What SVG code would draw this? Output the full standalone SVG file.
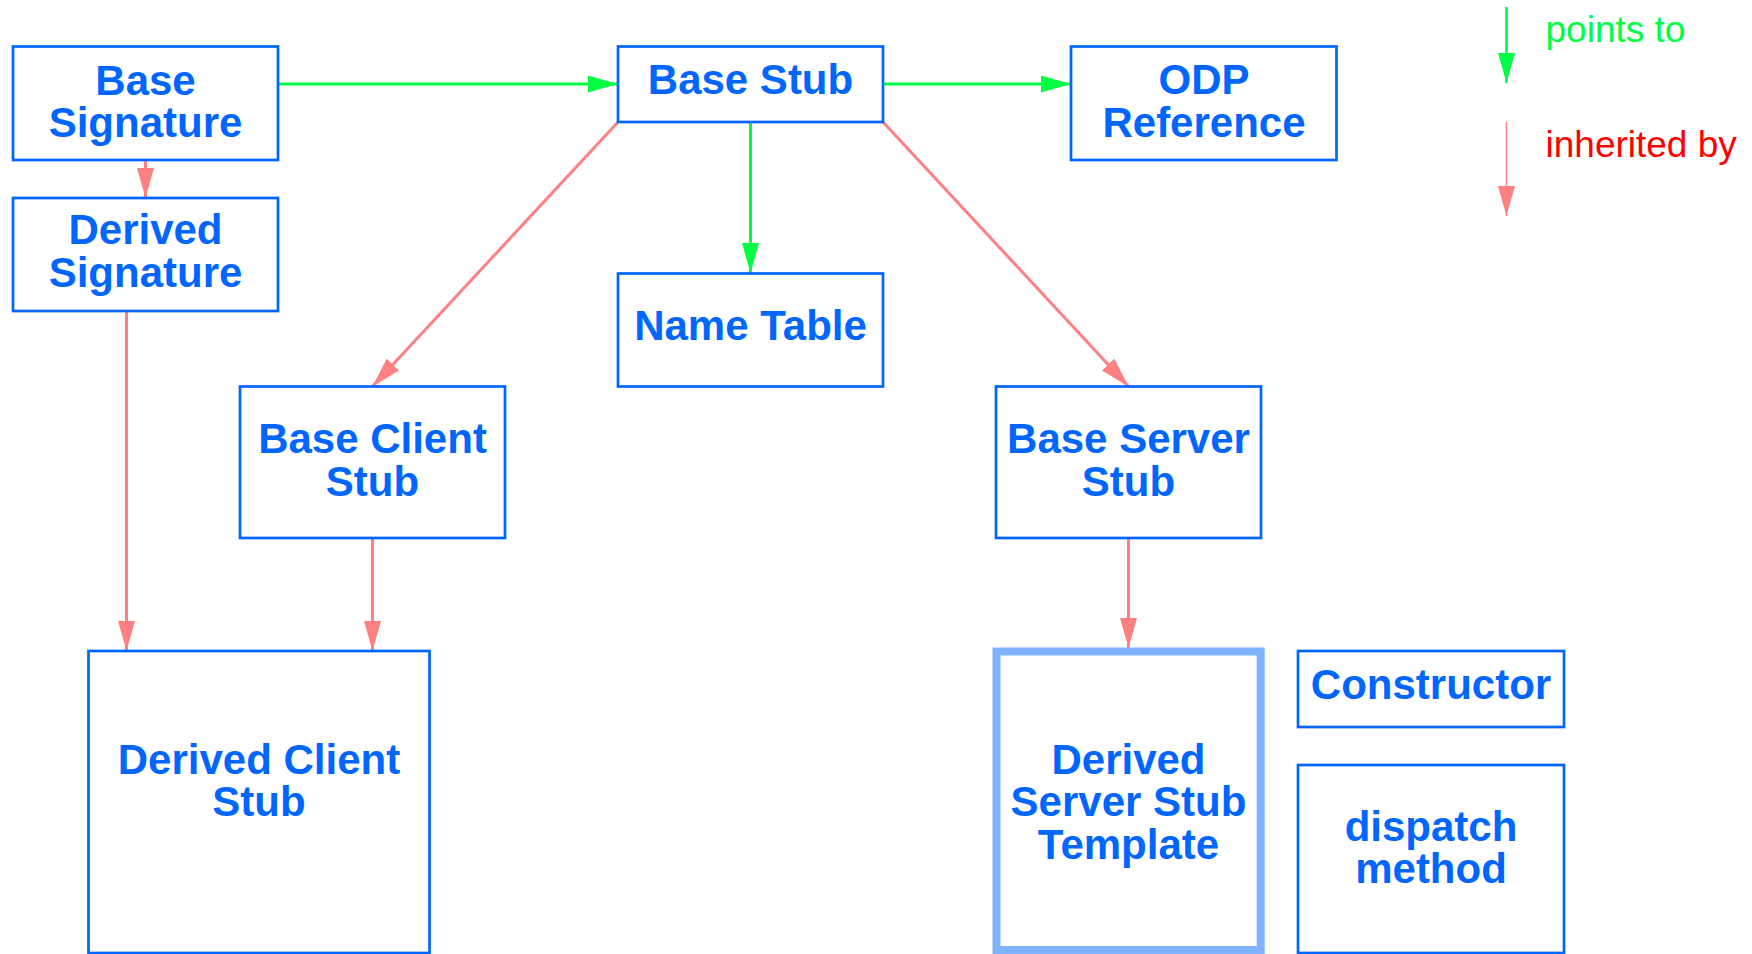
<svg xmlns="http://www.w3.org/2000/svg" width="1752" height="954" viewBox="0 0 1752 954">
<style>
.box{fill:#ffffff;stroke:#0066ff;stroke-width:2.7}
.thick{fill:#ffffff;stroke:#80b3ff;stroke-width:8}
.lbl{font-family:"Liberation Sans",Arial,Helvetica,sans-serif;font-weight:bold;font-size:42px;fill:#0066ff;text-anchor:middle}
.g{stroke:#00ff44;stroke-width:3;fill:none}
.r{stroke:#ff8080;stroke-width:3;fill:none}
.leg{font-family:"Liberation Sans",Arial,Helvetica,sans-serif;font-size:37px}
</style>
<defs>
<marker id="ag" markerUnits="userSpaceOnUse" markerWidth="30" markerHeight="17" refX="30" refY="8.5" orient="auto"><path d="M0,0 L30,8.5 L0,17 z" fill="#00ff44"/></marker>
<marker id="ar" markerUnits="userSpaceOnUse" markerWidth="30" markerHeight="17" refX="30" refY="8.5" orient="auto"><path d="M0,0 L30,8.5 L0,17 z" fill="#ff8080"/></marker>
</defs>
<rect width="1752" height="954" fill="#ffffff"/>
<g id="connectors">
<line class="g" x1="278" y1="84" x2="618" y2="84" marker-end="url(#ag)"/>
<line class="g" x1="883" y1="84" x2="1071" y2="84" marker-end="url(#ag)"/>
<line class="g" x1="750.5" y1="122" x2="750.5" y2="273" marker-end="url(#ag)"/>
<line class="r" x1="145.5" y1="160" x2="145.5" y2="198" marker-end="url(#ar)"/>
<line class="r" x1="126.5" y1="311" x2="126.5" y2="651" marker-end="url(#ar)"/>
<line class="r" x1="618" y1="122" x2="372.5" y2="386.5" marker-end="url(#ar)"/>
<line class="r" x1="883" y1="122" x2="1128.5" y2="386.5" marker-end="url(#ar)"/>
<line class="r" x1="372.5" y1="538" x2="372.5" y2="651" marker-end="url(#ar)"/>
<line class="r" x1="1128.5" y1="538" x2="1128.5" y2="648" marker-end="url(#ar)"/>
</g>
<g id="legend">
<line x1="1506.5" y1="7" x2="1506.5" y2="83" stroke="#00ff44" stroke-width="2.7" marker-end="url(#ag)"/>
<line x1="1506.5" y1="122" x2="1506.5" y2="216" stroke="#ff8080" stroke-width="1.4" marker-end="url(#ar)"/>
<text class="leg" x="1545.5" y="42" fill="#00ff44">points to</text>
<text class="leg" x="1545.5" y="156.5" fill="#ff0000">inherited by</text>
</g>
<g id="base-signature">
<rect class="box" x="13" y="46.5" width="265" height="113.5"/>
<text class="lbl" x="145.5" y="94.5">Base</text>
<text class="lbl" x="145.5" y="137">Signature</text>
</g>
<g id="derived-signature">
<rect class="box" x="13" y="198" width="265" height="113"/>
<text class="lbl" x="145.5" y="243.5">Derived</text>
<text class="lbl" x="145.5" y="287">Signature</text>
</g>
<g id="base-stub">
<rect class="box" x="618" y="46.5" width="265" height="75.5"/>
<text class="lbl" x="750.5" y="94">Base Stub</text>
</g>
<g id="odp-reference">
<rect class="box" x="1071" y="46.5" width="265.5" height="113.5"/>
<text class="lbl" x="1204" y="94">ODP</text>
<text class="lbl" x="1204" y="137">Reference</text>
</g>
<g id="name-table">
<rect class="box" x="618" y="273.5" width="265" height="113"/>
<text class="lbl" x="750.5" y="339.5">Name Table</text>
</g>
<g id="base-client-stub">
<rect class="box" x="240" y="386.5" width="265" height="151.5"/>
<text class="lbl" x="372.5" y="453">Base Client</text>
<text class="lbl" x="372.5" y="495.5">Stub</text>
</g>
<g id="base-server-stub">
<rect class="box" x="996" y="386.5" width="265" height="151.5"/>
<text class="lbl" x="1128.5" y="453">Base Server</text>
<text class="lbl" x="1128.5" y="495.5">Stub</text>
</g>
<g id="derived-client-stub">
<rect class="box" x="88.5" y="651" width="341" height="302"/>
<text class="lbl" x="259" y="773.5">Derived Client</text>
<text class="lbl" x="259" y="816">Stub</text>
</g>
<g id="derived-server-stub-template">
<rect class="thick" x="996.5" y="651.5" width="264.2" height="298.5"/>
<text class="lbl" x="1128.5" y="773.5">Derived</text>
<text class="lbl" x="1128.5" y="816">Server Stub</text>
<text class="lbl" x="1128.5" y="858.5">Template</text>
</g>
<g id="constructor">
<rect class="box" x="1298" y="651" width="266" height="76"/>
<text class="lbl" x="1431" y="699">Constructor</text>
</g>
<g id="dispatch-method">
<rect class="box" x="1298" y="765" width="266" height="188"/>
<text class="lbl" x="1431" y="840.5">dispatch</text>
<text class="lbl" x="1431" y="883">method</text>
</g>
</svg>
